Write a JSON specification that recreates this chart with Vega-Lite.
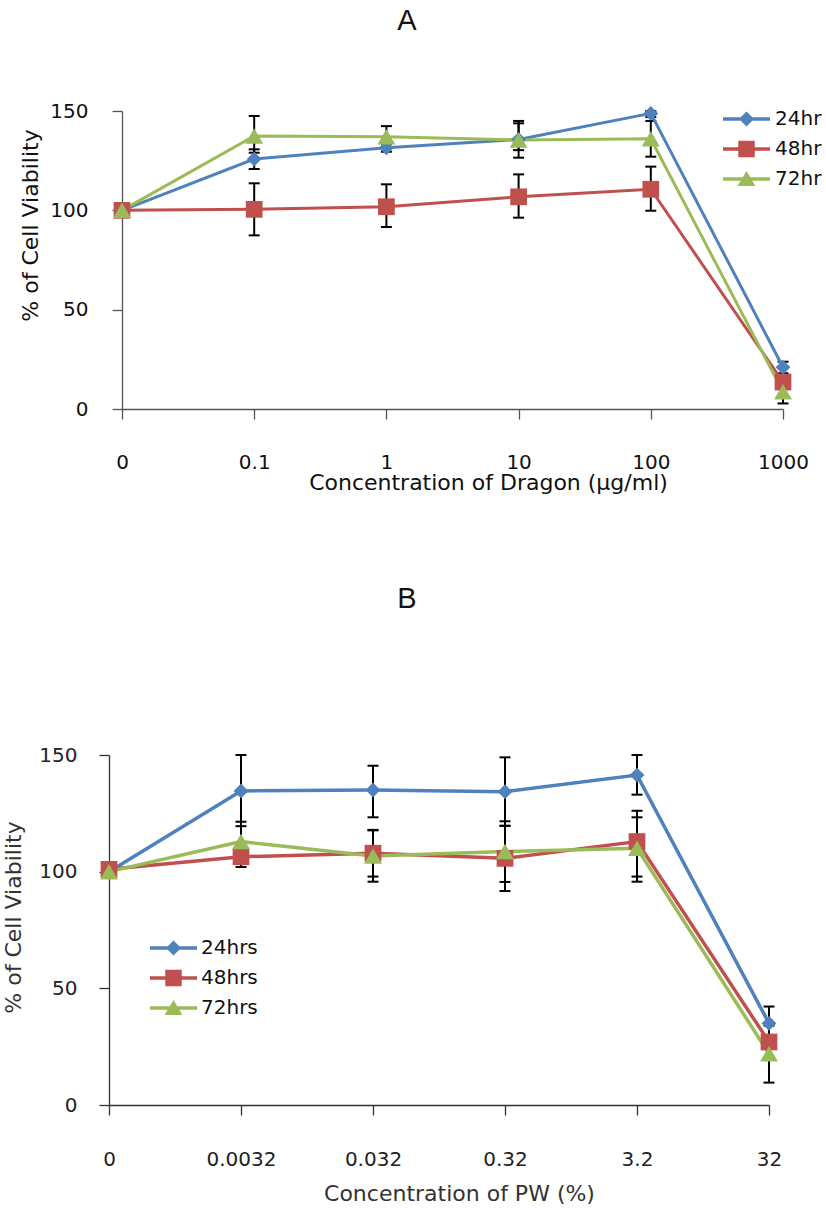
{
  "$schema": "https://vega.github.io/schema/vega-lite/v6.json",
  "background": "white",
  "autosize": {"type": "none"},
  "padding": {"left": 109, "top": 111, "right": 717, "bottom": 1097},
  "bounds": "flush",
  "spacing": 346,
  "resolve": {"scale": {"color": "independent"}, "legend": {"color": "independent"}},
  "config": {
    "view": {"stroke": null},
    "axis": {
      "grid": false,
      "labelFont": "DejaVu Sans",
      "labelFontSize": 20,
      "labelColor": "#111111",
      "titleFont": "DejaVu Sans",
      "titleFontSize": 22,
      "titleFontWeight": "normal",
      "titleColor": "#111111",
      "domainColor": "#555555",
      "tickColor": "#555555",
      "domainWidth": 1.3,
      "tickWidth": 1.3,
      "tickSize": 10
    },
    "legend": {"labelFont": "DejaVu Sans", "labelFontSize": 20, "labelColor": "#111111"}
  },
  "datasets": {
    "A": [
      {"conc": "0", "series": "24hr", "v": 100, "lo": null, "hi": null},
      {"conc": "0", "series": "48hr", "v": 100, "lo": null, "hi": null},
      {"conc": "0", "series": "72hr", "v": 100, "lo": null, "hi": null},
      {"conc": "0.1", "series": "24hr", "v": 125.8, "lo": 120.8, "hi": 130.7},
      {"conc": "0.1", "series": "48hr", "v": 100.5, "lo": 87.4, "hi": 113.6},
      {"conc": "0.1", "series": "72hr", "v": 137.4, "lo": 129, "hi": 147.5},
      {"conc": "1", "series": "24hr", "v": 131.5, "lo": 129.5, "hi": 133.5},
      {"conc": "1", "series": "48hr", "v": 101.8, "lo": 91.6, "hi": 113.1},
      {"conc": "1", "series": "72hr", "v": 137, "lo": 131.6, "hi": 142.4},
      {"conc": "10", "series": "24hr", "v": 135.7, "lo": 126.5, "hi": 145},
      {"conc": "10", "series": "48hr", "v": 106.8, "lo": 96.3, "hi": 118.1},
      {"conc": "10", "series": "72hr", "v": 135.4, "lo": 130.3, "hi": 143.8},
      {"conc": "100", "series": "24hr", "v": 148.8, "lo": 147, "hi": 150},
      {"conc": "100", "series": "48hr", "v": 110.6, "lo": 99.8, "hi": 122},
      {"conc": "100", "series": "72hr", "v": 136, "lo": 127, "hi": 145},
      {"conc": "1000", "series": "24hr", "v": 21, "lo": 18, "hi": 23.8},
      {"conc": "1000", "series": "48hr", "v": 13.6, "lo": 10, "hi": 17},
      {"conc": "1000", "series": "72hr", "v": 8.7, "lo": 2.8, "hi": 14.6}
    ],
    "B": [
      {"conc": "0", "series": "24hrs", "v": 100, "lo": null, "hi": null},
      {"conc": "0", "series": "48hrs", "v": 101, "lo": null, "hi": null},
      {"conc": "0", "series": "72hrs", "v": 100, "lo": null, "hi": null},
      {"conc": "0.0032", "series": "24hrs", "v": 134.6, "lo": 119.5, "hi": 150},
      {"conc": "0.0032", "series": "48hrs", "v": 106.4, "lo": 102, "hi": 111},
      {"conc": "0.0032", "series": "72hrs", "v": 112.9, "lo": 104.5, "hi": 121.4},
      {"conc": "0.032", "series": "24hrs", "v": 135, "lo": 123.3, "hi": 145.4},
      {"conc": "0.032", "series": "48hrs", "v": 107.9, "lo": 97.9, "hi": 117.9},
      {"conc": "0.032", "series": "72hrs", "v": 106.7, "lo": 95.7, "hi": 117.7},
      {"conc": "0.32", "series": "24hrs", "v": 134.3, "lo": 119.6, "hi": 149},
      {"conc": "0.32", "series": "48hrs", "v": 105.7, "lo": 91.7, "hi": 119.7},
      {"conc": "0.32", "series": "72hrs", "v": 108.6, "lo": 95.6, "hi": 121.6},
      {"conc": "3.2", "series": "24hrs", "v": 141.4, "lo": 133, "hi": 150},
      {"conc": "3.2", "series": "48hrs", "v": 112.9, "lo": 97.9, "hi": 126.1},
      {"conc": "3.2", "series": "72hrs", "v": 110, "lo": 95.7, "hi": 123.3},
      {"conc": "32", "series": "24hrs", "v": 35, "lo": 28, "hi": 42.2},
      {"conc": "32", "series": "48hrs", "v": 27, "lo": 24, "hi": 30},
      {"conc": "32", "series": "72hrs", "v": 22, "lo": 9.6, "hi": 34}
    ]
  },
  "vconcat": [
    {
      "width": 674,
      "height": 298,
      "data": {"name": "A"},
      "title": {"text": "A", "frame": "group", "anchor": "middle", "offset": 42, "dx": -39, "baseline": "alphabetic", "font": "Liberation Sans", "fontSize": 29, "fontWeight": "normal", "color": "#111111"},
      "encoding": {
        "x": {
          "field": "conc", "type": "ordinal",
          "scale": {"type": "point", "padding": 0, "domain": ["0", "0.1", "1", "10", "100", "1000"], "range": [13, 674]},
          "axis": {"labelAngle": 0, "labelPadding": 33, "title": "Concentration of Dragon (μg/ml)", "titleX": 379, "titleY": 80, "titleAlign": "center", "titleAnchor": null, "titleBaseline": "alphabetic"}
        },
        "y": {
          "field": "v", "type": "quantitative",
          "scale": {"domain": [0, 150], "nice": false},
          "axis": {"values": [0, 50, 100, 150], "offset": -13, "labelPadding": 24, "title": "% of Cell Viability", "titleX": -92, "titleY": 114, "titleAngle": 270, "titleAlign": "center", "titleBaseline": "middle"}
        },
        "color": {"field": "series", "type": "nominal", "scale": {"domain": ["24hr", "48hr", "72hr"], "range": ["#4F81BD", "#C0504D", "#9BBB59"]},
          "legend": {"orient": "none", "legendX": 614, "legendY": -7, "title": null, "padding": 0, "symbolSize": 2209, "symbolStrokeWidth": 0, "labelOffset": 5, "rowPadding": 0, "clipHeight": 30,
            "encode": {"symbols": {"update": {"shape": {"signal": "datum.value === '24hr' ? 'M-1,-0.075L1,-0.075L1,0.075L-1,0.075ZM-0.32,0L0,-0.32L0.32,0L0,0.32Z' : datum.value === '48hr' ? 'M-1,-0.075L1,-0.075L1,0.075L-1,0.075ZM-0.35,-0.35L0.35,-0.35L0.35,0.35L-0.35,0.35Z' : 'M-1,-0.075L1,-0.075L1,0.075L-1,0.075ZM0,-0.34L0.38,0.3L-0.38,0.3Z'"}, "size": {"value": 2209}, "fill": {"signal": "datum.value === '24hr' ? '#4F81BD' : datum.value === '48hr' ? '#C0504D' : '#9BBB59'"}, "strokeWidth": {"value": 0}, "opacity": {"value": 1}}}}}}
      },
      "layer": [
        {"transform": [{"filter": "isValid(datum.lo)"}], "mark": {"type": "rule", "color": "black", "strokeWidth": 2}, "encoding": {"color": {"value": "black"}, "y": {"field": "lo", "type": "quantitative", "axis": {"values": [0, 50, 100, 150], "offset": -13, "labelPadding": 24, "title": "% of Cell Viability", "titleX": -92, "titleY": 114, "titleAngle": 270, "titleAlign": "center", "titleBaseline": "middle"}}, "y2": {"field": "hi"}}},
        {"transform": [{"filter": "isValid(datum.lo)"}], "mark": {"type": "tick", "color": "black", "thickness": 2, "size": 11, "opacity": 1}, "encoding": {"color": {"value": "black"}, "y": {"field": "lo", "type": "quantitative", "axis": {"values": [0, 50, 100, 150], "offset": -13, "labelPadding": 24, "title": "% of Cell Viability", "titleX": -92, "titleY": 114, "titleAngle": 270, "titleAlign": "center", "titleBaseline": "middle"}}}},
        {"transform": [{"filter": "isValid(datum.hi)"}], "mark": {"type": "tick", "color": "black", "thickness": 2, "size": 11, "opacity": 1}, "encoding": {"color": {"value": "black"}, "y": {"field": "hi", "type": "quantitative", "axis": {"values": [0, 50, 100, 150], "offset": -13, "labelPadding": 24, "title": "% of Cell Viability", "titleX": -92, "titleY": 114, "titleAngle": 270, "titleAlign": "center", "titleBaseline": "middle"}}}},
        {"mark": {"type": "line", "strokeWidth": 3}},
        {"transform": [{"filter": {"field": "series", "equal": "24hr"}}], "mark": {"type": "point", "filled": true, "opacity": 1, "shape": "diamond", "size": 220}},
        {"transform": [{"filter": {"field": "series", "equal": "48hr"}}], "mark": {"type": "point", "filled": true, "opacity": 1, "shape": "square", "size": 280}},
        {"transform": [{"filter": {"field": "series", "equal": "72hr"}}], "mark": {"type": "point", "filled": true, "opacity": 1, "shape": "triangle-up", "size": 320}}
      ]
    },
    {
      "width": 660,
      "height": 350,
      "data": {"name": "B"},
      "title": {"text": "B", "frame": "group", "anchor": "middle", "offset": 108, "dx": -32, "baseline": "alphabetic", "font": "Liberation Sans", "fontSize": 29, "fontWeight": "normal", "color": "#111111"},
      "encoding": {
        "x": {
          "field": "conc", "type": "ordinal",
          "scale": {"type": "point", "padding": 0, "domain": ["0", "0.0032", "0.032", "0.32", "3.2", "32"]},
          "axis": {"labelAngle": 0, "labelPadding": 34, "domainColor": "#333333", "tickColor": "#333333", "title": "Concentration of PW (%)", "titleX": 350, "titleY": 95, "titleAlign": "center", "titleAnchor": null, "titleBaseline": "alphabetic", "titleColor": "#333333", "labelColor": "#222222"}
        },
        "y": {
          "field": "v", "type": "quantitative",
          "scale": {"domain": [0, 150], "nice": false},
          "axis": {"values": [0, 50, 100, 150], "labelPadding": 22, "domainColor": "#333333", "tickColor": "#333333", "title": "% of Cell Viability", "titleX": -96, "titleY": 162, "titleAngle": 270, "titleAlign": "center", "titleBaseline": "middle", "titleColor": "#333333", "labelColor": "#222222"}
        },
        "color": {"field": "series", "type": "nominal", "scale": {"domain": ["24hrs", "48hrs", "72hrs"], "range": ["#4F81BD", "#C0504D", "#9BBB59"]},
          "legend": {"orient": "none", "legendX": 41, "legendY": 178, "title": null, "padding": 0, "symbolSize": 2209, "symbolStrokeWidth": 0, "labelOffset": 4, "rowPadding": 0, "clipHeight": 30,
            "encode": {"symbols": {"update": {"shape": {"signal": "datum.value === '24hrs' ? 'M-1,-0.075L1,-0.075L1,0.075L-1,0.075ZM-0.32,0L0,-0.32L0.32,0L0,0.32Z' : datum.value === '48hrs' ? 'M-1,-0.075L1,-0.075L1,0.075L-1,0.075ZM-0.35,-0.35L0.35,-0.35L0.35,0.35L-0.35,0.35Z' : 'M-1,-0.075L1,-0.075L1,0.075L-1,0.075ZM0,-0.34L0.38,0.3L-0.38,0.3Z'"}, "size": {"value": 2209}, "fill": {"signal": "datum.value === '24hrs' ? '#4F81BD' : datum.value === '48hrs' ? '#C0504D' : '#9BBB59'"}, "strokeWidth": {"value": 0}, "opacity": {"value": 1}}}}}}
      },
      "layer": [
        {"transform": [{"filter": "isValid(datum.lo)"}], "mark": {"type": "rule", "color": "black", "strokeWidth": 2}, "encoding": {"color": {"value": "black"}, "y": {"field": "lo", "type": "quantitative", "axis": {"values": [0, 50, 100, 150], "labelPadding": 22, "domainColor": "#333333", "tickColor": "#333333", "title": "% of Cell Viability", "titleX": -96, "titleY": 162, "titleAngle": 270, "titleAlign": "center", "titleBaseline": "middle", "titleColor": "#333333", "labelColor": "#222222"}}, "y2": {"field": "hi"}}},
        {"transform": [{"filter": "isValid(datum.lo)"}], "mark": {"type": "tick", "color": "black", "thickness": 2, "size": 11, "opacity": 1}, "encoding": {"color": {"value": "black"}, "y": {"field": "lo", "type": "quantitative", "axis": {"values": [0, 50, 100, 150], "labelPadding": 22, "domainColor": "#333333", "tickColor": "#333333", "title": "% of Cell Viability", "titleX": -96, "titleY": 162, "titleAngle": 270, "titleAlign": "center", "titleBaseline": "middle", "titleColor": "#333333", "labelColor": "#222222"}}}},
        {"transform": [{"filter": "isValid(datum.hi)"}], "mark": {"type": "tick", "color": "black", "thickness": 2, "size": 11, "opacity": 1}, "encoding": {"color": {"value": "black"}, "y": {"field": "hi", "type": "quantitative", "axis": {"values": [0, 50, 100, 150], "labelPadding": 22, "domainColor": "#333333", "tickColor": "#333333", "title": "% of Cell Viability", "titleX": -96, "titleY": 162, "titleAngle": 270, "titleAlign": "center", "titleBaseline": "middle", "titleColor": "#333333", "labelColor": "#222222"}}}},
        {"mark": {"type": "line", "strokeWidth": 3.5}},
        {"transform": [{"filter": {"field": "series", "equal": "24hrs"}}], "mark": {"type": "point", "filled": true, "opacity": 1, "shape": "diamond", "size": 220}},
        {"transform": [{"filter": {"field": "series", "equal": "48hrs"}}], "mark": {"type": "point", "filled": true, "opacity": 1, "shape": "square", "size": 280}},
        {"transform": [{"filter": {"field": "series", "equal": "72hrs"}}], "mark": {"type": "point", "filled": true, "opacity": 1, "shape": "triangle-up", "size": 320}}
      ]
    }
  ]
}
